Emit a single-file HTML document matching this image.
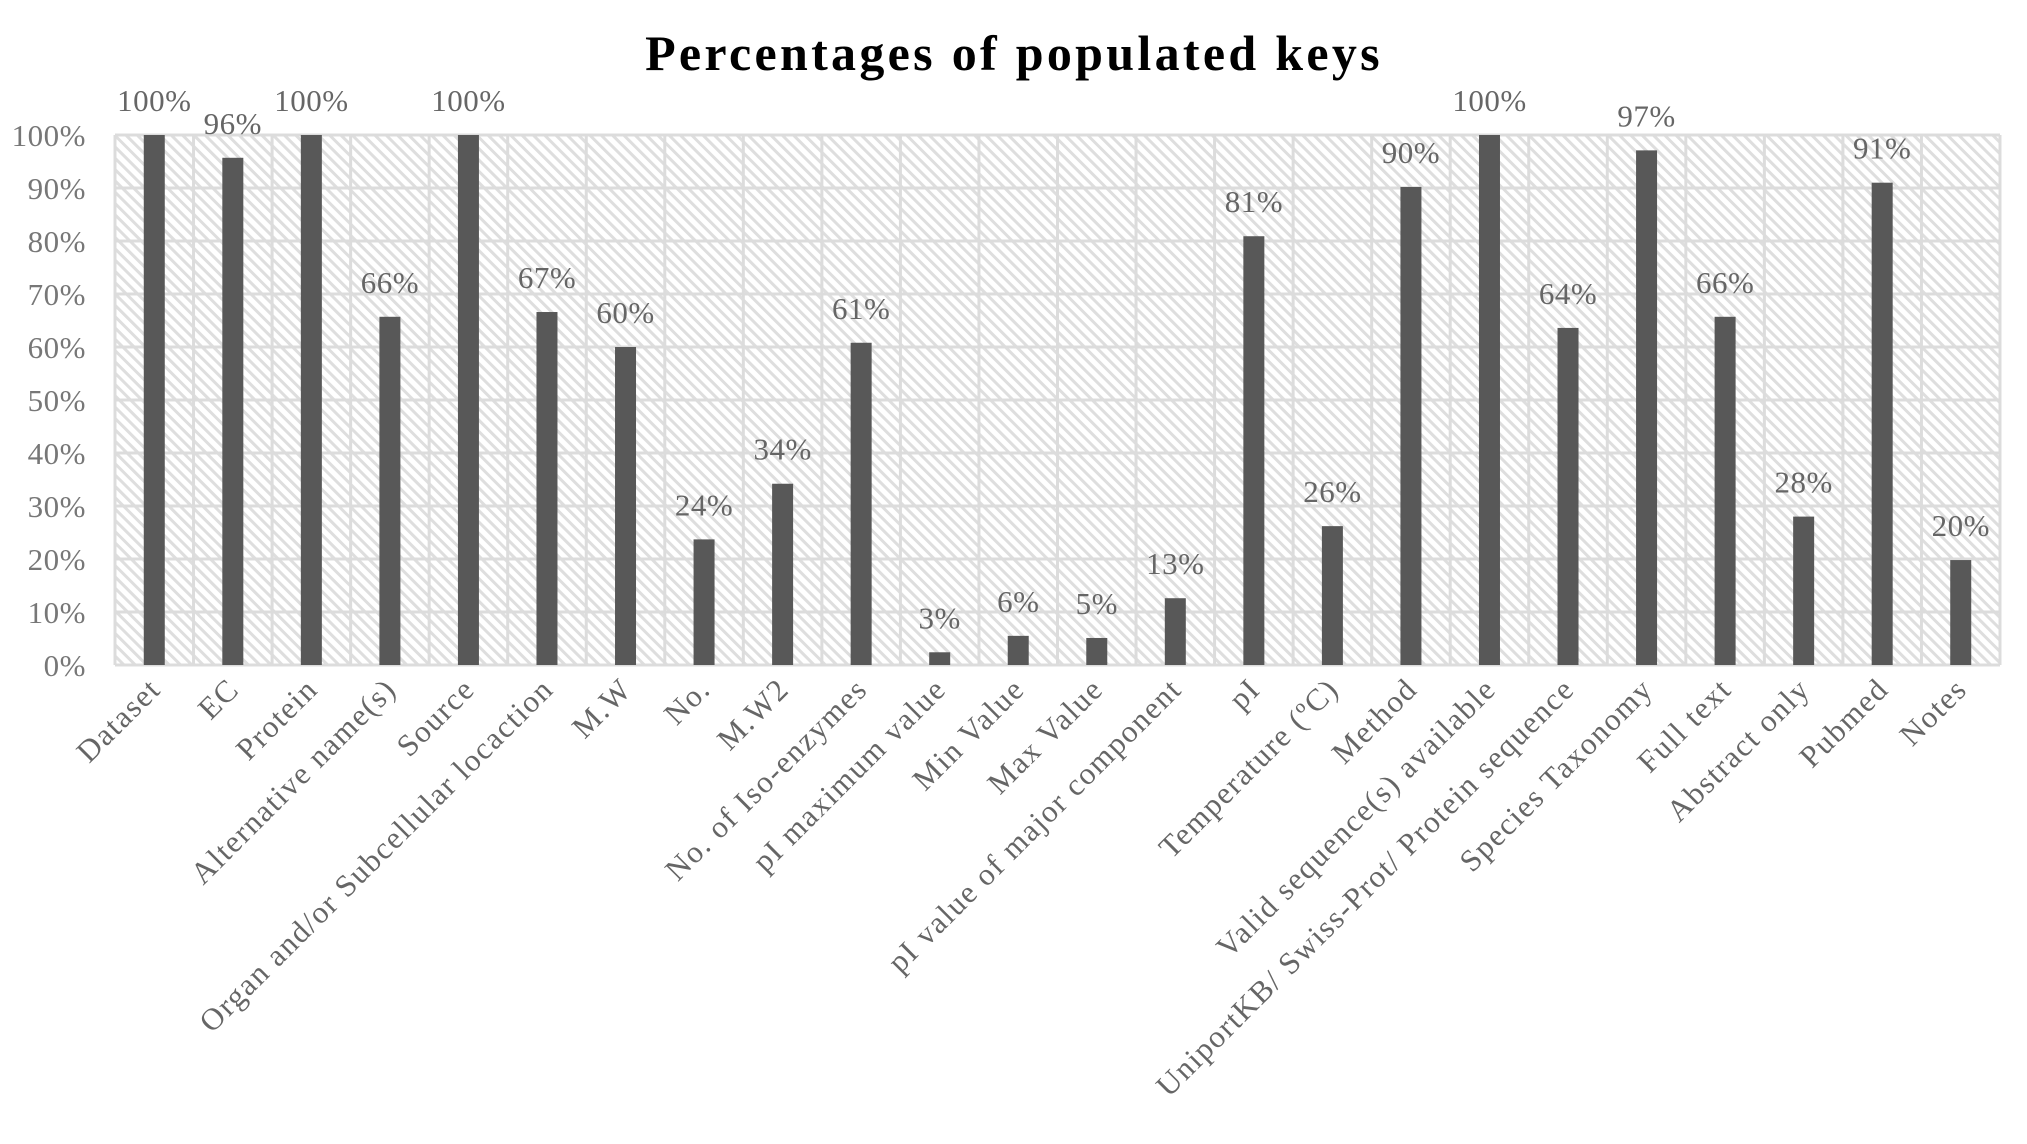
<!DOCTYPE html>
<html><head><meta charset="utf-8"><style>
html,body{margin:0;padding:0;background:#fff;}
svg{display:block;font-family:"Liberation Serif",serif;}
</style></head><body>
<svg id="chart" width="2027" height="1144" viewBox="0 0 2027 1144" xmlns="http://www.w3.org/2000/svg">
<defs>
<pattern id="hatch" patternUnits="userSpaceOnUse" width="8" height="8" patternTransform="rotate(-45)">
<rect width="8" height="8" fill="#ffffff"/>
<rect x="0" y="0" width="3" height="8" fill="#dedede"/>
</pattern>
</defs>
<text x="1014" y="70" text-anchor="middle" font-size="50" font-weight="bold" letter-spacing="3.3" fill="#000">Percentages of populated keys</text>
<rect x="115" y="135" width="1885" height="530" fill="url(#hatch)"/>
<g id="grid"></g>
<g id="bars"></g>
<g id="labels"></g>
</svg>
<script>
const categories = ["Dataset","EC","Protein","Alternative name(s)","Source","Organ and/or Subcellular locaction","M.W","No.","M.W2","No. of Iso-enzymes","pI maximum value","Min Value","Max Value","pI value of major component","pI","Temperature (ºC)","Method","Valid sequence(s) available","UniportKB/ Swiss-Prot/ Protein sequence","Species Taxonomy","Full text","Abstract only","Pubmed","Notes"];
const values = [100,95.7,100,65.7,100,66.6,60,23.7,34.2,60.8,2.4,5.5,5.1,12.6,80.9,26.2,90.2,100,63.6,97.1,65.7,28,91,19.8];
const valueLabels = ["100%","96%","100%","66%","100%","67%","60%","24%","34%","61%","3%","6%","5%","13%","81%","26%","90%","100%","64%","97%","66%","28%","91%","20%"];
const yTicks = [0,10,20,30,40,50,60,70,80,90,100];
const yTickLabels = ["0%","10%","20%","30%","40%","50%","60%","70%","80%","90%","100%"];

const NS="http://www.w3.org/2000/svg";
const X0=115,X1=2000,Y0=665,Y1=135;
const band=(X1-X0)/categories.length;
function xScale(i){return X0+band*(i+0.5);}
function yScale(v){return Y0-(v/100)*(Y0-Y1);}
function mk(tag,attrs,parent){const e=document.createElementNS(NS,tag);for(const k in attrs)e.setAttribute(k,attrs[k]);parent.appendChild(e);return e;}
const grid=document.getElementById('grid'),bars=document.getElementById('bars'),labels=document.getElementById('labels');

yTicks.forEach((t,i)=>{
  const y=yScale(t);
  const l=mk('line',{x1:X0,x2:X1,y1:y,y2:y,stroke:'#dcdcdc','stroke-width':3},grid);
  
  
  const tx=mk('text',{x:86,y:y+11,'text-anchor':'end','font-size':31,'letter-spacing':0.5,fill:'#777'},labels);
  tx.textContent=yTickLabels[i];
  
  
});
for(let i=0;i<=categories.length;i++){
  const x=X0+band*i;
  const l=mk('line',{x1:x,x2:x,y1:Y1,y2:Y0,stroke:'#dcdcdc','stroke-width':3},grid);
  
  
}
categories.forEach((c,i)=>{
  const cx=xScale(i),top=yScale(values[i]),w=21;
  const r=mk('rect',{x:cx-w/2,y:top,width:w,height:Y0-top,fill:'#585858'},bars);
  
  
  const vl=mk('text',{x:cx,y:top-24,'text-anchor':'middle','font-size':31,'letter-spacing':0.5,fill:'#666'},labels);
  vl.textContent=valueLabels[i];
  
  
  const xl=mk('text',{x:0,y:0,'text-anchor':'end','font-size':31,'letter-spacing':1.5,fill:'#666',transform:`translate(${cx+8},${Y0+26}) rotate(-45)`},labels);
  xl.textContent=c;
  
  
});
</script>
</body></html>
